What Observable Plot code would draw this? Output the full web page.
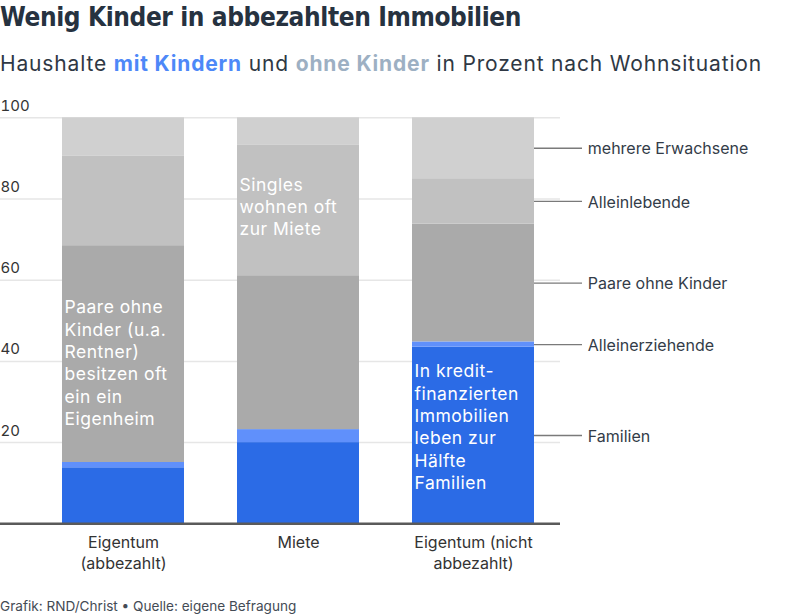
<!DOCTYPE html>
<html><head><meta charset="utf-8">
<script src="https://cdn.jsdelivr.net/npm/d3@7"></script>
<script src="https://cdn.jsdelivr.net/npm/@observablehq/plot@0.6"></script>
<style>
body{margin:0;width:800px;height:616px;position:relative;font-family:Inter,sans-serif;background:#fff;overflow:hidden}
#title{position:absolute;left:0;top:0;font-family:"DejaVu Sans Condensed",Inter,sans-serif;font-size:26px;line-height:34px;font-weight:700;color:#263240;white-space:nowrap}
#subtitle{position:absolute;left:0;top:49px;font-size:21px;line-height:30px;color:#2f3844;white-space:nowrap}
#subtitle .k{color:#4d88f8;font-weight:700}
#subtitle .o{color:#9db0c3;font-weight:700}
#chart{position:absolute;left:0;top:88px}
#chart g[fill="white"]{letter-spacing:0.5px}
#caption{position:absolute;left:0;top:596px;font-size:13.6px;line-height:20px;color:#444b55;white-space:nowrap}
</style></head>
<body>
<div id="title">Wenig Kinder in abbezahlten Immobilien</div>
<div id="subtitle">Haushalte <span class="k">mit Kindern</span> und <span class="o">ohne Kinder</span> in Prozent nach Wohnsituation</div>
<div id="chart"></div>
<div id="caption">Grafik: RND/Christ • Quelle: eigene Befragung</div>
<script>
const categories = ["Eigentum (abbezahlt)", "Miete", "Eigentum (nicht abbezahlt)"];
const categoryLabels = ["Eigentum\n(abbezahlt)", "Miete", "Eigentum (nicht\nabbezahlt)"];
const series = ["Familien", "Alleinerziehende", "Paare ohne Kinder", "Alleinlebende", "mehrere Erwachsene"];
const familien = [13.8, 20.0, 43.5];
const alleinerziehende = [1.3, 3.2, 1.3];
const paare = [53.4, 37.9, 29.0];
const alleinlebende = [22.0, 32.1, 11.2];
const mehrere = [9.5, 6.8, 15.0];
const colors = ["#2b6be6", "#6090fb", "#aaaaaa", "#c1c1c1", "#d0d0d0"];
const yTicks = [20, 40, 60, 80, 100];
const notes = [
  "Paare ohne\nKinder (u.a.\nRentner)\nbesitzen oft\nein ein\nEigenheim",
  "Singles\nwohnen oft\nzur Miete",
  "In kredit-\nfinanzierten\nImmobilien\nleben zur\nHälfte\nFamilien"
];
const noteY = [55.8, 86.0, 40.0];

// fit header widths to the reference layout
function fitWidth(el, target) {
  const r = document.createRange(); r.selectNodeContents(el);
  const w = r.getBoundingClientRect().width;
  const n = el.textContent.length;
  el.style.letterSpacing = ((target - w) / n) + "px";
}
fitWidth(document.getElementById("title"), 521);
fitWidth(document.getElementById("subtitle"), 762);

const valuesBySeries = [familien, alleinerziehende, paare, alleinlebende, mehrere];
const rows = [];
categories.forEach((c, i) => series.forEach((s, j) => rows.push({cat: c, series: s, value: valuesBySeries[j][i]})));

// labels on the right, at the middle of each segment of the last bar
const lastCat = categories[categories.length - 1];
const lastVals = valuesBySeries.map(v => v[v.length - 1]);
const cum = d3.cumsum(lastVals);
const labelRows = series.map((s, j) => ({cat: lastCat, series: s, mid: cum[j] - lastVals[j] / 2}));

const chart = Plot.plot({
  width: 800,
  height: 492,
  marginTop: 29.3,
  marginBottom: 56.7,
  marginLeft: 0,
  marginRight: 240,
  style: {fontFamily: "Inter, sans-serif", background: "transparent"},
  x: {domain: categories, range: [35, 560], paddingInner: 0.303, paddingOuter: 0.15, axis: null},
  y: {domain: [0, 100], axis: null},
  color: {domain: series, range: colors},
  marks: [
    Plot.ruleY(yTicks, {stroke: "#e6e6e6", strokeWidth: 1.5}),
    Plot.barY(rows, {x: "cat", y: "value", fill: "series", z: "series"}),
    Plot.ruleY([0], {stroke: "#5a5a5a", strokeWidth: 2.5}),
    Plot.text(yTicks, {y: d => d, frameAnchor: "left", textAnchor: "start", lineAnchor: "bottom", dy: -7, fontSize: 15, fill: "#333"}),
    Plot.text(categories, {x: d => d, text: (d, i) => categoryLabels[i], frameAnchor: "bottom", lineAnchor: "top", dy: 8.5, fontSize: 16, lineHeight: 1.34, fill: "#333"}),
    Plot.text(categories, {x: d => d, y: (d, i) => noteY[i], text: (d, i) => notes[i], textAnchor: "start", lineAnchor: "top", dx: -59, fill: "white", fontSize: 17.5, lineHeight: 1.28}),
    Plot.ruleY(labelRows, {x1: "cat", x2: "cat", y: "mid", dx: 122, stroke: "#7a7a7a", strokeWidth: 1.3, strokeDasharray: "48 600"}),
    Plot.text(labelRows, {x: "cat", y: "mid", text: "series", textAnchor: "start", dx: 114.3, dy: 1, fontSize: 16, fill: "#333c48"})
  ]
});
document.getElementById("chart").appendChild(chart);
</script>
</body></html>
